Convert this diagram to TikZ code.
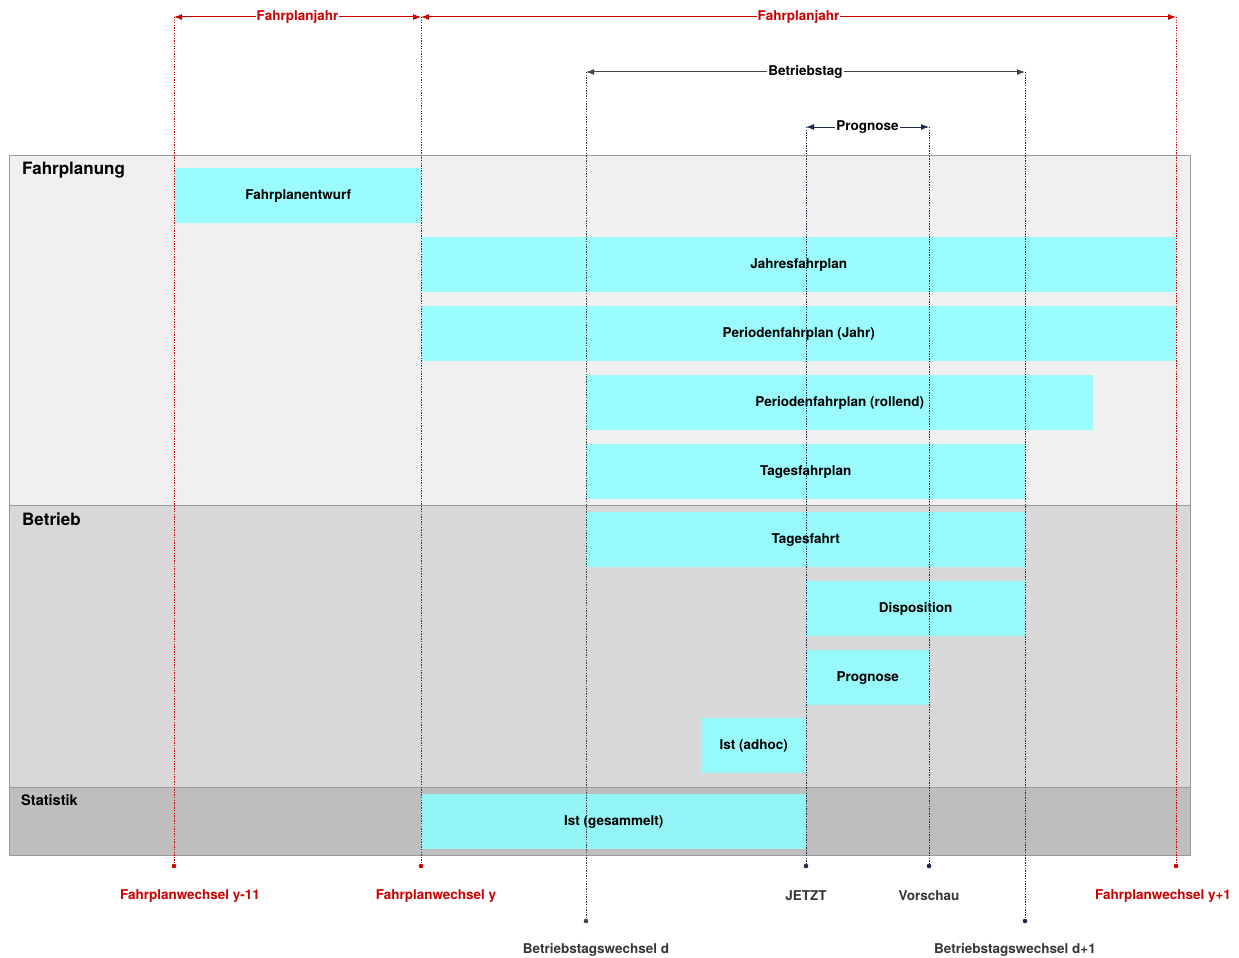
\documentclass[tikz,border=0pt]{standalone}
\usepackage{fontspec}
\setmainfont{TeX Gyre Heros}
\usetikzlibrary{arrows.meta}
\definecolor{fpred}{HTML}{CC0000}
\definecolor{tagdark}{HTML}{444444}
\definecolor{prognavy}{HTML}{1C2B48}
\definecolor{phasecyan}{HTML}{8CFFFF}
\definecolor{bandline}{HTML}{9A9A9A}
\definecolor{planfill}{HTML}{F0F0F0}
\definecolor{betriebfill}{HTML}{D8D8D8}
\definecolor{statfill}{HTML}{BEBEBE}
\tikzset{
  band/.style={draw=bandline, line width=1pt, anchor=north west, inner sep=0pt, minimum width=1181pt},
  bandlabel/.style={anchor=north west, inner sep=0pt, font=\fontsize{17}{19}\selectfont\bfseries},
  phase/.style={fill=phasecyan, fill opacity=0.85, text opacity=1, anchor=north west, inner sep=0pt,
    minimum height=55pt, font=\fontsize{13.5}{15}\selectfont\bfseries},
  marker/.style={line cap=butt, dash pattern=on 1.3pt off 1.3pt, line width=0.8pt},
  span/.style={{Latex[length=8pt,width=6pt]}-{Latex[length=8pt,width=6pt]}, line width=1pt},
  spanlabel/.style={fill=white, inner sep=1pt, font=\fontsize{13.5}{15}\selectfont\bfseries},
  endlabel/.style={font=\fontsize{13.5}{15}\selectfont\bfseries}
}
\begin{document}
\begin{tikzpicture}[x=1pt,y=-1pt,line cap=round,line join=round]
	\useasboundingbox (0,0) rectangle (1239,958);
	% Ebenen
	\node[band, fill=planfill, minimum height=350pt] (plan) at (9,155) {};
	\node[band, fill=betriebfill, minimum height=282pt] (betrieb) at (9,505) {};
	\node[band, fill=statfill, minimum height=68pt] (stat) at (9,787) {};
	\node[bandlabel] (planlabel) at (22,162) {Fahrplanung};
	\node[bandlabel] (betrieblabel) at (22,513) {Betrieb};
	\node[bandlabel, font=\fontsize{14.5}{16}\selectfont\bfseries] (statlabel) at (21,794) {Statistik};
	% Phasen
	\node[phase, minimum width=246pt] (entwurf) at (175,168) {Fahrplanentwurf};
	\node[phase, minimum width=755pt] (jahr) at (421,237) {Jahresfahrplan};
	\node[phase, minimum width=755pt] (periodejahr) at (421,306) {Periodenfahrplan (Jahr)};
	\node[phase, minimum width=507pt] (perioderollend) at (586,375) {Periodenfahrplan (rollend)};
	\node[phase, minimum width=439pt] (tagesplan) at (586,444) {Tagesfahrplan};
	\node[phase, minimum width=439pt] (tagesfahrt) at (586,512) {Tagesfahrt};
	\node[phase, minimum width=219pt] (dispo) at (806,581) {Disposition};
	\node[phase, minimum width=123pt] (prognose) at (806,650) {Prognose};
	\node[phase, minimum width=105pt] (istadhoc) at (701,718) {Ist (adhoc)};
	\node[phase, minimum width=385pt] (istgesammelt) at (421,794) {Ist (gesammelt)};
	% Zeitpunkte
	\foreach \n/\x/\ytop/\ybot/\col in {wa/174/17/866/fpred, wb/421/17/866/fpred, wc/1176/17/866/fpred,
	    da/586/72/921/tagdark, db/1025/72/921/prognavy, jetzt/806/127/866/prognavy, vorschau/929/127/866/prognavy}{
	  \coordinate (\n-top) at (\x,\ytop);
	  \coordinate (\n-dot) at (\x,\ybot);
	  \draw[marker, color=\col] (\n-top) -- (\n-dot);
	  \fill[\col] (\n-dot) circle (2.3pt);
	}
	% Spannen
	\draw[span, fpred] (wa-top) -- (wb-top) node[midway, spanlabel, text=fpred] (fj1) {Fahrplanjahr};
	\draw[span, fpred] (wb-top) -- (wc-top) node[midway, spanlabel, text=fpred] (fj2) {Fahrplanjahr};
	\draw[span, tagdark] (da-top) -- (db-top) node[midway, spanlabel, text=black] (btag) {Betriebstag};
	\draw[span, prognavy] (jetzt-top) -- (vorschau-top) node[midway, spanlabel, text=black] (prog) {Prognose};
	% Beschriftung unten
	\node[endlabel, text=fpred] (walabel) at (190,896) {Fahrplanwechsel y-11};
	\node[endlabel, text=fpred] (wblabel) at (436,896) {Fahrplanwechsel y};
	\node[endlabel, text=fpred] (wclabel) at (1163,896) {Fahrplanwechsel y+1};
	\node[endlabel, text=tagdark!80!black] (jetztlabel) at (806,896) {JETZT};
	\node[endlabel, text=tagdark!80!black] (vorschaulabel) at (929,896) {Vorschau};
	\node[endlabel, text=tagdark!80!black] (dalabel) at (596,950) {Betriebstagswechsel d};
	\node[endlabel, text=tagdark!80!black] (dblabel) at (1015,950) {Betriebstagswechsel d+1};
\end{tikzpicture}
\end{document}
